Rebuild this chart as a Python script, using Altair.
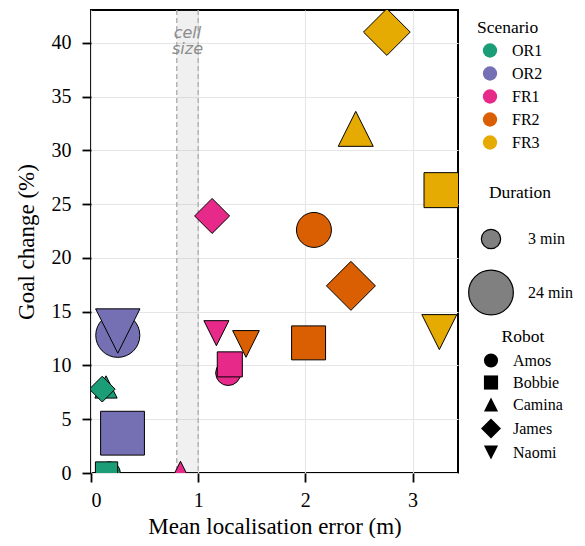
import altair as alt
import pandas as pd

# ---- data ----
scenario = ["OR1", "OR1", "OR1", "OR1",
            "OR2", "OR2", "OR2",
            "FR1", "FR1", "FR1", "FR1", "FR1",
            "FR2", "FR2", "FR2", "FR2",
            "FR3", "FR3", "FR3", "FR3"]
robot = ["Amos", "Bobbie", "Camina", "James",
         "Amos", "Bobbie", "Naomi",
         "Amos", "Bobbie", "Camina", "James", "Naomi",
         "Amos", "Bobbie", "James", "Naomi",
         "Bobbie", "Camina", "James", "Naomi"]
loc_error = [0.17, 0.145, 0.14, 0.105,
             0.25, 0.294, 0.25,
             1.28, 1.295, 0.835, 1.13, 1.17,
             2.08, 2.03, 2.425, 1.446,
             3.27, 2.47, 2.76, 3.25]
goal_change = [0.0, 0.0, 8.0, 7.8,
               12.8, 3.7, 13.2,
               9.3, 10.1, 0.0, 23.9, 13.0,
               22.6, 12.1, 17.4, 12.0,
               26.3, 32.0, 41.0, 13.1]
duration = [4.6, 4.6, 4.6, 2.5,
            23.3, 23.0, 23.6,
            6.3, 6.3, 5.3, 6.1, 6.3,
            14.0, 13.1, 13.7, 7.4,
            14.0, 14.0, 12.3, 14.0]

scenario_order = ["OR1", "OR2", "FR1", "FR2", "FR3"]
scenario_colors = ["#1b9e77", "#7570b3", "#e7298a", "#d95f02", "#e6ab02"]
robot_order = ["Amos", "Bobbie", "Camina", "James", "Naomi"]
robot_shapes = ["circle", "square",
                "M0,-1L-1,1L1,1Z",
                "M0,-1.414L1.414,0L0,1.414L-1.414,0Z",
                "M0,1L-1,-1L1,-1Z"]
duration_legend = [3, 24]
cell_band = [0.8, 1.0]

df = pd.DataFrame({"scenario": scenario, "robot": robot, "error": loc_error,
                   "goal": goal_change, "duration": duration})
band_df = pd.DataFrame({"x0": [cell_band[0]], "x1": [cell_band[1]]})
edge_df = pd.DataFrame({"x": cell_band})

W, H = 367, 463
SERIF = "Liberation Serif"

xs = alt.Scale(domain=[0, 3.424], nice=False, zero=False)
ys = alt.Scale(domain=[0, 43.05], nice=False)

band = alt.Chart(band_df).mark_rect(fill="#808080", opacity=0.12).encode(
    x=alt.X("x0:Q", scale=xs), x2="x1:Q",
    y=alt.value(0), y2=alt.value(H))

edges = alt.Chart(edge_df).mark_rule(color="#aaaaaa", strokeWidth=1.3, strokeDash=[5, 3]).encode(
    x=alt.X("x:Q", scale=xs))

label = alt.Chart(band_df).mark_text(
    text=["cell", "size"], font="DejaVu Sans", fontStyle="italic", fontSize=16,
    color="#8c8c8c", baseline="top", align="center", lineHeight=16).encode(
    x=alt.datum(0.9, scale=xs), y=alt.datum(41.7, scale=ys))

leg_common = dict(titleFontWeight="normal", titleFont=SERIF, titleFontSize=17.5,
                  labelFont=SERIF, labelFontSize=16,
                  orient="none", labelOffset=14, padding=0)

points = alt.Chart(df).mark_point(filled=True, stroke="black", strokeWidth=1,
                                  opacity=1, fillOpacity=1, clip=True).encode(
    x=alt.X("error:Q", scale=xs, title="Mean localisation error (m)",
            axis=alt.Axis(values=[0, 1, 2, 3], format="d", labelPadding=8, titlePadding=5)),
    y=alt.Y("goal:Q", scale=ys, title="Goal change (%)",
            axis=alt.Axis(values=[0, 5, 10, 15, 20, 25, 30, 35, 40], labelPadding=11,
                          titlePadding=13)),
    fill=alt.Fill("scenario:N", sort=scenario_order,
                  scale=alt.Scale(domain=scenario_order, range=scenario_colors),
                  legend=alt.Legend(title="Scenario", legendX=386, legendY=9,
                                    titleAnchor="start", symbolOffset=5,
                                    symbolType="circle", symbolSize=205, symbolStrokeWidth=0,
                                    rowPadding=7, titlePadding=6, **leg_common)),
    size=alt.Size("duration:Q",
                  scale=alt.Scale(domain=[3, 24], range=[372, 1998], zero=False),
                  legend=alt.Legend(title="Duration", legendX=377, legendY=174,
                                    titleAnchor="middle",
                                    values=duration_legend, labelExpr="datum.value + ' min'",
                                    symbolType="circle", symbolFillColor="#808080",
                                    symbolStrokeColor="black", symbolStrokeWidth=1.2,
                                    rowPadding=16, titlePadding=27, **leg_common)),
    shape=alt.Shape("robot:N", sort=robot_order,
                    scale=alt.Scale(domain=robot_order, range=robot_shapes),
                    legend=alt.Legend(title="Robot", legendX=392, legendY=318,
                                      titleAnchor="middle",
                                      symbolSize=200, symbolFillColor="black",
                                      symbolStrokeColor="black", symbolStrokeWidth=0,
                                      rowPadding=6, titlePadding=7, **leg_common)),
)

chart = alt.layer(band, edges, label, points).properties(
    width=W, height=H,
    autosize=alt.AutoSizeParams(type="none"),
    padding={"left": 83, "top": 2, "right": 119, "bottom": 65},
).configure_view(
    stroke="black", strokeWidth=2
).configure_axis(
    domain=False, grid=True, gridColor="#e6e6e6", gridWidth=1.2,
    tickColor="black", tickWidth=1.8, tickSize=9,
    labelFont=SERIF, labelFontSize=20, labelColor="black",
    titleFont=SERIF, titleFontSize=23, titleFontWeight="normal", titleColor="black",
).configure_legend(
    titleFont=SERIF, titleFontSize=17.5, titleFontWeight="normal", titleColor="black",
    labelFont=SERIF, labelFontSize=16, labelColor="black",
)

chart.save("out.html", embed_options={"renderer": "svg", "actions": False})
